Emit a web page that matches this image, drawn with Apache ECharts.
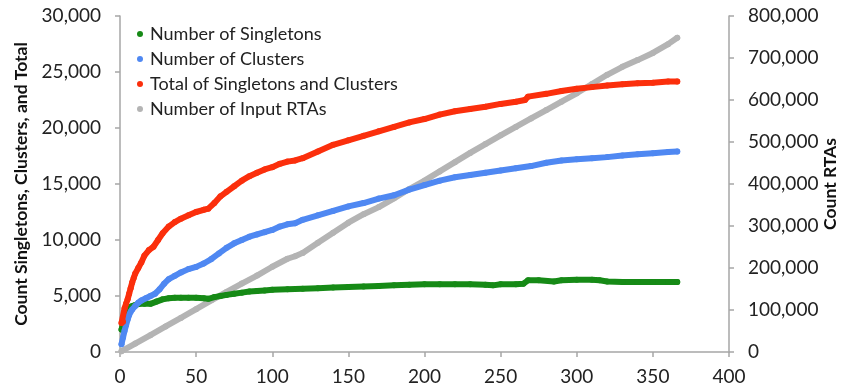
<!DOCTYPE html>
<html><head><meta charset="utf-8">
<script src="https://cdn.jsdelivr.net/npm/echarts@6/dist/echarts.min.js"></script>
<style>html,body{margin:0;padding:0;background:#fff}#c{width:843px;height:389px}</style>
</head><body><div id="c"></div>
<script>
// Day numbers and values
const singletons = [[1,2000],[2,2600],[3,3300],[4,3700],[5,3900],[6,4000],[8,4100],[10,4200],[13,4300],[16,4300],[20,4300],[24,4500],[28,4700],[32,4800],[36,4850],[40,4850],[45,4850],[50,4850],[55,4800],[58,4750],[62,4900],[66,5000],[70,5100],[75,5200],[80,5300],[85,5400],[90,5450],[95,5500],[100,5550],[110,5600],[120,5650],[130,5700],[140,5750],[150,5800],[160,5850],[170,5900],[180,5950],[190,6000],[200,6050],[210,6050],[220,6050],[230,6050],[240,6000],[245,5950],[250,6050],[260,6050],[265,6100],[268,6400],[275,6400],[285,6300],[290,6400],[300,6450],[310,6450],[315,6400],[320,6300],[330,6250],[340,6250],[350,6250],[360,6250],[366,6250]];
const clusters = [[1,700],[2,1300],[3,1900],[4,2400],[5,2900],[6,3300],[7,3600],[8,3800],[10,4100],[12,4400],[14,4600],[17,4800],[20,5000],[23,5200],[26,5600],[29,6100],[32,6500],[36,6800],[40,7100],[45,7400],[50,7600],[55,7900],[60,8300],[65,8800],[70,9300],[75,9700],[80,10000],[85,10300],[90,10500],[95,10700],[100,10900],[105,11200],[110,11400],[115,11500],[120,11800],[130,12200],[140,12600],[150,13000],[160,13300],[170,13700],[180,14000],[190,14500],[200,14900],[210,15300],[220,15600],[230,15800],[240,16000],[250,16200],[260,16400],[270,16600],[280,16900],[290,17100],[300,17200],[310,17300],[320,17400],[330,17550],[340,17650],[350,17750],[360,17850],[366,17900]];
const totals = [[1,2600],[2,2700],[3,3900],[4,4300],[5,4700],[6,5200],[7,5700],[8,6200],[9,6600],[10,7000],[12,7500],[14,8000],[16,8600],[19,9100],[22,9400],[25,10000],[28,10600],[32,11200],[36,11600],[40,11900],[45,12200],[50,12500],[55,12700],[58,12800],[62,13300],[66,13900],[70,14300],[75,14800],[80,15300],[85,15700],[90,16000],[95,16300],[100,16500],[105,16800],[110,17000],[115,17100],[120,17300],[130,17900],[140,18500],[150,18900],[160,19300],[170,19700],[180,20100],[190,20500],[200,20800],[210,21200],[220,21500],[230,21700],[240,21900],[250,22150],[260,22350],[266,22500],[268,22800],[280,23050],[290,23300],[300,23500],[310,23650],[320,23800],[330,23900],[340,24000],[350,24050],[360,24150],[366,24150]];
const inputRTAs = [[1,2000],[10,20000],[20,40000],[30,61000],[40,81000],[50,102000],[60,123000],[70,143000],[80,163000],[90,182000],[100,203000],[110,222000],[115,228000],[120,236000],[130,260000],[140,284000],[150,308000],[160,328000],[170,345000],[180,366000],[190,388000],[200,408000],[210,430000],[220,452000],[230,474000],[240,495000],[250,516000],[260,536000],[270,556000],[280,576000],[290,596000],[300,616000],[310,638000],[320,660000],[330,679000],[340,695000],[350,712000],[360,733000],[366,748000]];
const seriesNames = ['Number of Singletons','Number of Clusters','Total of Singletons and Clusters','Number of Input RTAs'];
const leftAxisName = 'Count Singletons, Clusters, and Total';
const rightAxisName = 'Count RTAs';

const FONT = 'Lato';
const axisLineStyle = {color:'#a6a6a6', width:1.5};
const fmt = v => Number(v).toLocaleString('en-US');
function mk(name, data, color, yIdx, z){
  return {name, type:'line', data, yAxisIndex:yIdx, z,
    showSymbol:true, symbol:'circle', symbolSize:6, itemStyle:{color},
    lineStyle:{color, width:6, cap:'round', join:'round'}, animation:false};
}
const chart = echarts.init(document.getElementById('c'));
chart.setOption({
  animation:false,
  textStyle:{fontFamily:FONT},
  grid:{left:120, right:114, top:16, bottom:37, containLabel:false, outerBoundsMode:'none'},
  legend:{orient:'vertical', left:132, top:20, icon:'circle', itemWidth:6, itemHeight:6, itemGap:7,
    textStyle:{fontFamily:FONT, fontSize:18, color:'#222', padding:[0,0,0,2]},
    data:seriesNames},
  xAxis:{type:'value', min:0, max:400, interval:50, splitLine:{show:false},
    axisLine:{lineStyle:axisLineStyle}, axisTick:{show:true, length:5, lineStyle:axisLineStyle},
    axisLabel:{fontFamily:FONT, fontSize:19, color:'#222', margin:15}},
  yAxis:[
    {type:'value', min:0, max:30000, interval:5000, position:'left', splitLine:{show:false},
     axisLine:{show:true, lineStyle:axisLineStyle}, axisTick:{show:true, length:5, lineStyle:axisLineStyle},
     axisLabel:{fontFamily:FONT, fontSize:19, color:'#222', margin:19, formatter:fmt},
     name:leftAxisName, nameLocation:'middle', nameGap:90,
     nameTextStyle:{fontFamily:FONT, fontSize:17.5, fontWeight:'bold', color:'#111'}},
    {type:'value', min:0, max:800000, interval:100000, position:'right', splitLine:{show:false},
     axisLine:{show:true, lineStyle:axisLineStyle}, axisTick:{show:true, length:5, lineStyle:axisLineStyle},
     axisLabel:{fontFamily:FONT, fontSize:19, color:'#222', margin:19, formatter:fmt},
     name:rightAxisName, nameLocation:'middle', nameGap:92, nameRotate:90, nameMoveOverlap:false,
     nameTextStyle:{fontFamily:FONT, fontSize:17.5, fontWeight:'bold', color:'#111'}}
  ],
  series:[
    mk(seriesNames[3], inputRTAs, '#b4b4b4', 1, 2),
    mk(seriesNames[0], singletons, '#168a16', 0, 3),
    mk(seriesNames[1], clusters, '#4f88f2', 0, 4),
    mk(seriesNames[2], totals, '#fb2f0c', 0, 5)
  ]
});
</script></body></html>
